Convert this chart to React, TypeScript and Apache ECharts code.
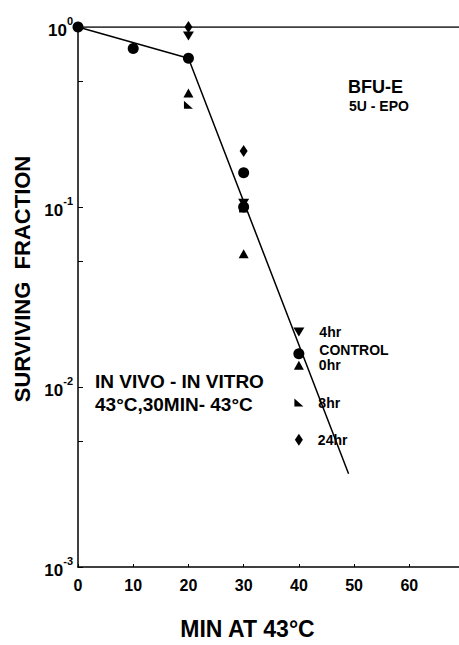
import React, { useEffect, useRef } from 'react';
import * as echarts from 'echarts';

const xTickValues = [0, 10, 20, 30, 40, 50, 60];
const yTickValues = [0.001, 0.01, 0.1, 1];
const yMinorTicks = [0.001, 0.005, 0.01, 0.05, 0.1, 0.5, 1];

const controlData: number[][] = [[0, 1.0], [10, 0.76], [20, 0.67], [30, 0.155], [30, 0.1], [40, 0.0153]];
const hr0Data: number[][] = [[20, 0.43], [30, 0.055], [40, 0.0132]];
const hr4Data: number[][] = [[20, 0.89], [30, 0.105], [40, 0.0202]];
const hr8Data: number[][] = [[20, 0.37], [30, 0.098], [40, 0.0082]];
const hr24Data: number[][] = [[20, 1.0], [30, 0.205], [40, 0.0051]];
const fitLine: number[][] = [[0, 1.0], [20, 0.67], [49, 0.0033]];
const topLine: number[][] = [[0, 1], [69, 1]];

const FONT = '"Liberation Sans", Arial, Helvetica, sans-serif';

function withEndLabel(data: number[][], text: string, offset: number[]) {
  return data.map((d, i) =>
    i === data.length - 1
      ? {
          value: d,
          label: {
            show: true,
            formatter: text,
            position: 'right',
            distance: 15,
            offset,
            color: '#000',
            opacity: 1,
            fontFamily: FONT,
            fontWeight: 'bold',
            fontSize: 14,
          },
        }
      : { value: d }
  );
}

export default function App() {
  const ref = useRef<HTMLDivElement>(null);
  useEffect(() => {
    if (!ref.current) return;
    const chart = echarts.init(ref.current, undefined, { renderer: 'svg' });
    const markerStyle = { color: '#000', opacity: 1 };
    chart.setOption({
      animation: false,
      backgroundColor: '#fff',
      grid: { left: 78, right: 0, top: 27, bottom: 69, containLabel: false },
      xAxis: {
        type: 'value',
        min: 0,
        max: 69,
        interval: 10,
        axisLine: { show: true, lineStyle: { color: '#000', width: 1.5 } },
        axisTick: { show: true, inside: true, length: 3, lineStyle: { color: '#000' } },
        splitLine: { show: false },
        axisLabel: {
          showMaxLabel: false,
          color: '#000',
          fontFamily: FONT,
          fontWeight: 'bold',
          fontSize: 16,
          margin: 10,
          formatter: (v: number) => (xTickValues.includes(v) ? String(v) : ''),
        },
        name: 'MIN AT 43°C',
        nameLocation: 'middle',
        nameGap: 50,
        nameTextStyle: { color: '#000', fontFamily: FONT, fontWeight: 'bold', fontSize: 23, padding: [0, 42, 0, 0] },
      },
      yAxis: {
        type: 'log',
        logBase: 10,
        min: 0.001,
        max: 1,
        axisLine: { show: true, lineStyle: { color: '#000', width: 1.5 } },
        axisTick: { show: true, inside: true, length: 5, customValues: yMinorTicks, lineStyle: { color: '#000' } },
        splitLine: { show: false },
        axisLabel: {
          customValues: yTickValues,
          margin: 5,
          formatter: (v: number) => `{b|10}{s|${Math.round(Math.log10(v))}}`,
          rich: {
            b: { fontFamily: FONT, fontWeight: 'bold', fontSize: 17, color: '#000', lineHeight: 24, verticalAlign: 'bottom' },
            s: { fontFamily: FONT, fontWeight: 'bold', fontSize: 11, color: '#000', lineHeight: 11, verticalAlign: 'top' },
          },
        },
      },
      graphic: [
        {
          type: 'text',
          x: 22,
          y: 279,
          rotation: Math.PI / 2,
          style: {
            text: 'SURVIVING  FRACTION',
            fontFamily: FONT,
            fontWeight: 'bold',
            fontSize: 22,
            fill: '#000',
            align: 'center',
            verticalAlign: 'middle',
          },
        },
        {
          type: 'text',
          x: 348,
          y: 87,
          style: { text: 'BFU-E', fontFamily: FONT, fontWeight: 'bold', fontSize: 18, fill: '#000', verticalAlign: 'middle' },
        },
        {
          type: 'text',
          x: 349,
          y: 106,
          style: { text: '5U - EPO', fontFamily: FONT, fontWeight: 'bold', fontSize: 14, fill: '#000', verticalAlign: 'middle' },
        },
        {
          type: 'text',
          x: 95,
          y: 381,
          style: { text: 'IN VIVO - IN VITRO', fontFamily: FONT, fontWeight: 'bold', fontSize: 19, fill: '#000', verticalAlign: 'middle' },
        },
        {
          type: 'text',
          x: 95,
          y: 404,
          style: { text: '43°C,30MIN- 43°C', fontFamily: FONT, fontWeight: 'bold', fontSize: 19, fill: '#000', verticalAlign: 'middle' },
        },
      ],
      series: [
        {
          type: 'line',
          data: topLine,
          symbol: 'none',
          lineStyle: { color: '#000', width: 1.5 },
          silent: true,
        },
        {
          type: 'line',
          data: fitLine,
          symbol: 'none',
          lineStyle: { color: '#000', width: 1.5 },
          silent: true,
        },
        {
          name: 'CONTROL',
          type: 'scatter',
          data: withEndLabel(controlData, 'CONTROL', [0, -4]),
          symbol: 'circle',
          symbolSize: 11,
          itemStyle: markerStyle,
        },
        {
          name: '4hr',
          type: 'scatter',
          data: withEndLabel(hr4Data, '4hr', [0, 0]),
          symbol: 'triangle',
          symbolRotate: 180,
          symbolSize: [11, 9],
          itemStyle: markerStyle,
        },
        {
          name: '0hr',
          type: 'scatter',
          data: withEndLabel(hr0Data, '0hr', [0, 0]),
          symbol: 'triangle',
          symbolSize: [10, 9],
          itemStyle: markerStyle,
        },
        {
          name: '8hr',
          type: 'scatter',
          data: withEndLabel(hr8Data, '8hr', [0, 0]),
          symbol: 'path://M0,0L0,10L10,10Z',
          symbolSize: [9, 8],
          itemStyle: markerStyle,
        },
        {
          name: '24hr',
          type: 'scatter',
          data: withEndLabel(hr24Data, '24hr', [0, 0]),
          symbol: 'diamond',
          symbolSize: [8, 12],
          itemStyle: markerStyle,
        },
      ],
    });
    return () => chart.dispose();
  }, []);
  return (
    <div
      ref={ref}
      style={{ position: 'fixed', left: 0, top: 0, width: 459, height: 645, background: '#fff' }}
    />
  );
}
